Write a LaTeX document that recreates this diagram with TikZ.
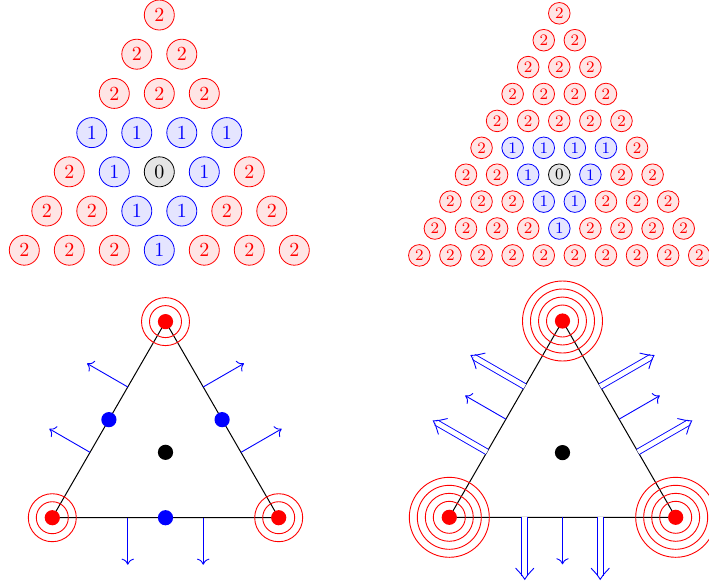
\documentclass[tikz,border=0pt]{standalone}
\usetikzlibrary{calc,arrows.meta}
\tikzset{
  nbase/.style={circle, inner sep=0pt, line width=0.4pt},
  n2/.style={nbase, draw=red, fill=red!10, text=red},
  n1/.style={nbase, draw=blue, fill=blue!10, text=blue},
  n0/.style={nbase, draw=black, fill=black!10, text=black},
  bigN/.style={minimum size=15pt, font=\normalsize},
  smallN/.style={minimum size=10.8pt, font=\footnotesize},
  dotR/.style={circle, fill=red, inner sep=0pt, minimum size=7.6pt},
  dotB/.style={circle, fill=blue, inner sep=0pt, minimum size=7.6pt},
  dotK/.style={circle, fill=black, inner sep=0pt, minimum size=7.6pt},
  edge/.style={draw=black, line width=0.5pt},
  ring/.style={draw=red, line width=0.45pt},
  outarr/.style={draw=blue, line width=0.45pt,
    -{To[length=3pt, width=6.2pt, line width=0.45pt]}},
  tipline/.style={draw=blue, line width=0.45pt, line cap=round},
  dblshaft/.style={draw=blue, line width=0.45pt, double=white, double distance=2.4pt,
    shorten >=1.6pt},
}
\newcommand\LRow[2]{%
  \foreach \v [count=\k] in {#2} {%
    \node[n\v, bigN] (L#1-\k) at ({159.3+(\k-(#1+1)/2)*45}, {15+(#1-1)*39.2}) {\v};
  }}
\newcommand\RRow[2]{%
  \foreach \v [count=\k] in {#2} {%
    \node[n\v, smallN] (R#1-\k) at ({559.3+(\k-(#1+1)/2)*31.1}, {13.3+(#1-1)*26.9}) {\v};
  }}
% open barbed tip at coordinate #1e pointing in direction #2 (degrees)
\newcommand\DblTip[2]{%
  \draw[tipline] ($(#1e)+({#2+180}:11)+({#2+90}:9)$)
    .. controls ($(#1e)+({#2+180}:4)+({#2+90}:2.5)$) .. (#1e)
    .. controls ($(#1e)+({#2+180}:4)+({#2-90}:2.5)$) .. ($(#1e)+({#2+180}:11)+({#2-90}:9)$);
}
\begin{document}
\begin{tikzpicture}[x=0.5pt, y=-0.5pt]
\useasboundingbox (0,0) rectangle (709,586);

% ---- top left triangle of numbers
\LRow{1}{2}
\LRow{2}{2,2}
\LRow{3}{2,2,2}
\LRow{4}{1,1,1,1}
\LRow{5}{2,1,0,1,2}
\LRow{6}{2,2,1,1,2,2}
\LRow{7}{2,2,2,1,2,2,2}

% ---- top right triangle of numbers
\RRow{1}{2}
\RRow{2}{2,2}
\RRow{3}{2,2,2}
\RRow{4}{2,2,2,2}
\RRow{5}{2,2,2,2,2}
\RRow{6}{2,1,1,1,1,2}
\RRow{7}{2,2,1,0,1,2,2}
\RRow{8}{2,2,2,1,1,2,2,2}
\RRow{9}{2,2,2,2,1,2,2,2,2}
\RRow{10}{2,2,2,2,2,2,2,2,2,2}

% ---- bottom left element
\coordinate (LT) at (165.5,321.6);
\coordinate (LA) at (52.3,517.7);
\coordinate (LB) at (278.7,517.7);
\path[edge] (LA) -- (LT) -- (LB) -- cycle;
\foreach \c in {LT,LA,LB} {
  \draw[ring] (\c) circle[radius=8pt];
  \draw[ring] (\c) circle[radius=12pt];
}
\coordinate (La1) at ($(LA)!1/3!(LT)$);
\coordinate (La2) at ($(LA)!2/3!(LT)$);
\coordinate (Lb1) at ($(LT)!1/3!(LB)$);
\coordinate (Lb2) at ($(LT)!2/3!(LB)$);
\coordinate (Lc1) at ($(LA)!1/3!(LB)$);
\coordinate (Lc2) at ($(LA)!2/3!(LB)$);
\coordinate (La1e) at ($(La1)+(210:47)$);
\coordinate (La2e) at ($(La2)+(210:47)$);
\coordinate (Lb1e) at ($(Lb1)+(330:47)$);
\coordinate (Lb2e) at ($(Lb2)+(330:47)$);
\coordinate (Lc1e) at ($(Lc1)+(90:47)$);
\coordinate (Lc2e) at ($(Lc2)+(90:47)$);
\foreach \s in {La1,La2,Lb1,Lb2,Lc1,Lc2} {
  \draw[outarr] (\s) -- (\s e);
}
\node[dotR] (LTd) at (LT) {};
\node[dotR] (LAd) at (LA) {};
\node[dotR] (LBd) at (LB) {};
\node[dotB] (Lm1) at ($(LA)!1/2!(LT)$) {};
\node[dotB] (Lm2) at ($(LT)!1/2!(LB)$) {};
\node[dotB] (Lm3) at ($(LA)!1/2!(LB)$) {};
\node[dotK] (Lg) at (165.5,452.3) {};

% ---- bottom right element
\coordinate (RT) at (562.5,321.0);
\coordinate (RA) at (449.3,517.3);
\coordinate (RB) at (675.7,517.3);
\path[edge] (RA) -- (RT) -- (RB) -- cycle;
\foreach \c in {RT,RA,RB} {
  \foreach \r in {8,12,16,20} {
    \draw[ring] (\c) circle[radius=\r pt];
  }
}
\coordinate (Ra1) at ($(RA)!1/3!(RT)$);
\coordinate (Ra2) at ($(RA)!1/2!(RT)$);
\coordinate (Ra3) at ($(RA)!2/3!(RT)$);
\coordinate (Rb1) at ($(RT)!1/3!(RB)$);
\coordinate (Rb2) at ($(RT)!1/2!(RB)$);
\coordinate (Rb3) at ($(RT)!2/3!(RB)$);
\coordinate (Rc1) at ($(RA)!1/3!(RB)$);
\coordinate (Rc2) at ($(RA)!1/2!(RB)$);
\coordinate (Rc3) at ($(RA)!2/3!(RB)$);
\coordinate (Ra1e) at ($(Ra1)+(210:62)$);
\coordinate (Ra2e) at ($(Ra2)+(210:47)$);
\coordinate (Ra3e) at ($(Ra3)+(210:62)$);
\coordinate (Rb1e) at ($(Rb1)+(330:62)$);
\coordinate (Rb2e) at ($(Rb2)+(330:47)$);
\coordinate (Rb3e) at ($(Rb3)+(330:62)$);
\coordinate (Rc1e) at ($(Rc1)+(90:62)$);
\coordinate (Rc2e) at ($(Rc2)+(90:47)$);
\coordinate (Rc3e) at ($(Rc3)+(90:62)$);
\foreach \s/\a in {Ra1/210,Ra3/210,Rb1/330,Rb3/330,Rc1/90,Rc3/90} {
  \draw[dblshaft] (\s) -- (\s e);
  \DblTip{\s}{\a}
}
\foreach \s in {Ra2,Rb2,Rc2} {
  \draw[outarr] (\s) -- (\s e);
}
\node[dotR] (RTd) at (RT) {};
\node[dotR] (RAd) at (RA) {};
\node[dotR] (RBd) at (RB) {};
\node[dotK] (Rg) at (562.5,452.6) {};
\end{tikzpicture}
\end{document}
